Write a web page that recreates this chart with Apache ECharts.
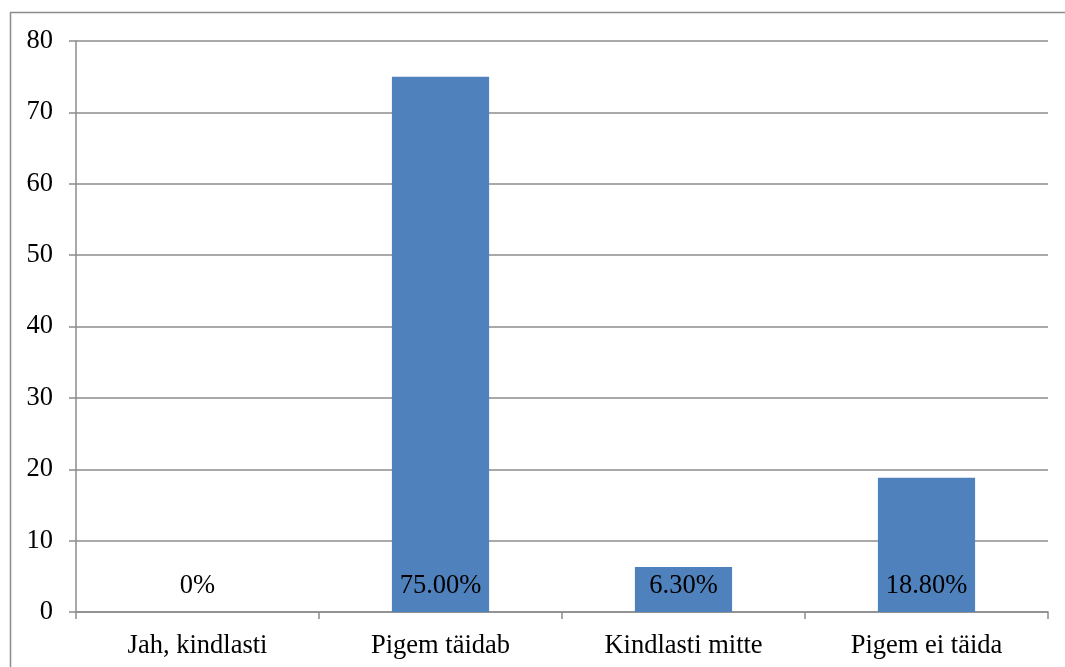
<!DOCTYPE html>
<html>
<head>
<meta charset="utf-8">
<script src="https://cdn.jsdelivr.net/npm/echarts@6/dist/echarts.min.js"></script>
<style>
  html, body { margin: 0; padding: 0; background: #fff; }
  #chart { width: 1065px; height: 667px; }
</style>
</head>
<body>
<div id="chart"></div>
<script>
// Answer categories and their shares (percent)
const categories = ['Jah, kindlasti', 'Pigem täidab', 'Kindlasti mitte', 'Pigem ei täida'];
const values = [0, 75, 6.3, 18.8];
const valueLabels = ['0%', '75.00%', '6.30%', '18.80%'];
const yTicks = { min: 0, max: 80, interval: 10 };

const chart = echarts.init(document.getElementById('chart'), null, { renderer: 'canvas' });
const serif = '"Liberation Serif", "Times New Roman", serif';
const gridColor = '#8c8c8c';
const fs = 26.5;

chart.setOption({
  animation: false,
  backgroundColor: '#fff',
  graphic: [{
    type: 'rect',
    shape: { x: 10.5, y: 12.5, width: 1070, height: 670 },
    style: { fill: 'none', stroke: '#8c8c8c', lineWidth: 1.5 },
    silent: true
  }],
  grid: { left: 76, right: 17, top: 41, bottom: 55, containLabel: false },
  xAxis: {
    type: 'category',
    data: categories,
    axisLine: { show: true, lineStyle: { color: gridColor, width: 1.5 } },
    axisTick: { show: true, alignWithLabel: false, length: 7, lineStyle: { color: gridColor, width: 1.5 } },
    axisLabel: { color: '#000', fontFamily: serif, fontSize: fs, margin: 21 },
    splitLine: { show: false }
  },
  yAxis: {
    type: 'value',
    min: yTicks.min,
    max: yTicks.max,
    interval: yTicks.interval,
    axisLine: { show: true, lineStyle: { color: gridColor, width: 1.5 } },
    axisTick: { show: true, length: 7, lineStyle: { color: gridColor, width: 1.5 } },
    axisLabel: { color: '#000', fontFamily: serif, fontSize: fs, margin: 23 },
    splitLine: { show: true, lineStyle: { color: gridColor, width: 1.5 } }
  },
  series: [{
    type: 'bar',
    data: values,
    barWidth: '40%',
    itemStyle: { color: '#4F81BD' },
    label: {
      show: true,
      position: 'insideBottom',
      distance: 12,
      color: '#000',
      fontFamily: serif,
      fontSize: fs,
      formatter: p => valueLabels[p.dataIndex]
    }
  }]
});
</script>
</body>
</html>
